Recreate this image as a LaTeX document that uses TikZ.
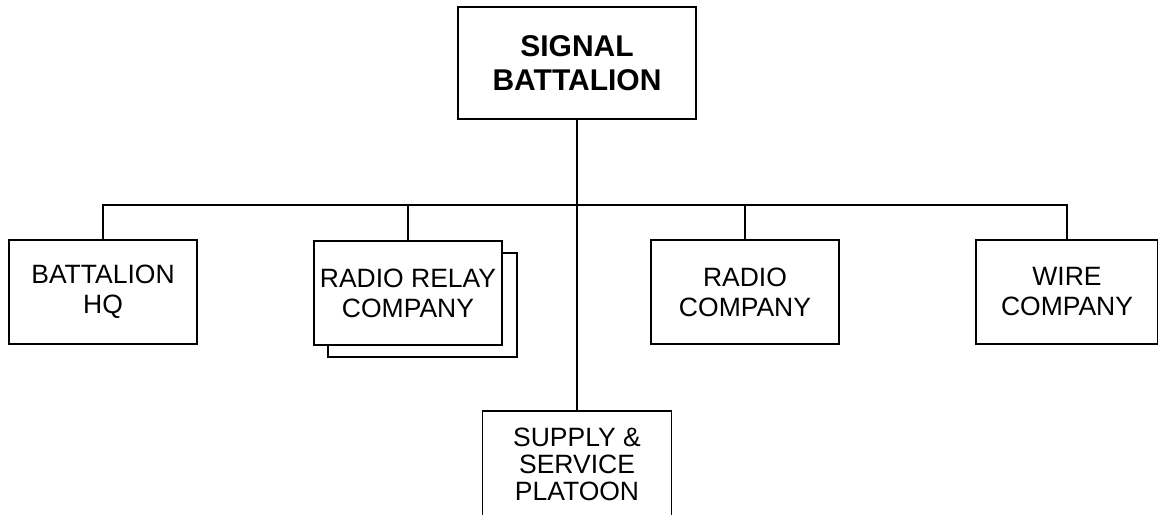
\documentclass[tikz,border=0pt]{standalone}
\usepackage{fontspec}
\setmainfont{Liberation Sans}
\begin{document}
\begin{tikzpicture}[x=1pt,y=-1pt,
  unitbox/.style={draw,line width=1.6pt,fill=white,rectangle,minimum width=188pt,minimum height=104pt,inner sep=0pt,align=center,font=\fontsize{26.5}{30}\selectfont},
  link/.style={line width=1.6pt}]
\useasboundingbox (0,0) rectangle (1158,514);
\clip (0,0) rectangle (1158,514);
\node[unitbox,minimum width=238pt,minimum height=112pt,font=\bfseries\fontsize{30}{34}\selectfont] (top) at (577,63) {SIGNAL\\BATTALION};
\node[unitbox] (hq) at (103,292) {BATTALION\\HQ};
\node[unitbox,minimum width=189pt] (shadow) at (422.5,305) {};
\node[unitbox] (relay) at (408,293) {RADIO RELAY\\COMPANY};
\node[unitbox] (radio) at (745,292) {RADIO\\COMPANY};
\node[unitbox,minimum width=182pt] (wire) at (1067,292) {WIRE\\COMPANY};
\node[unitbox,minimum width=189pt,minimum height=106pt,font=\fontsize{26.5}{27}\selectfont] (supply) at (577,464) {SUPPLY \&\\SERVICE\\PLATOON};
\coordinate (bus) at (577,205);
\draw[link] (top.south) -- (supply.north);
\draw[link] (hq.north) |- (bus) -| (wire.north);
\draw[link] (relay.north) -- (relay.north |- bus);
\draw[link] (radio.north) -- (radio.north |- bus);
\end{tikzpicture}
\end{document}
